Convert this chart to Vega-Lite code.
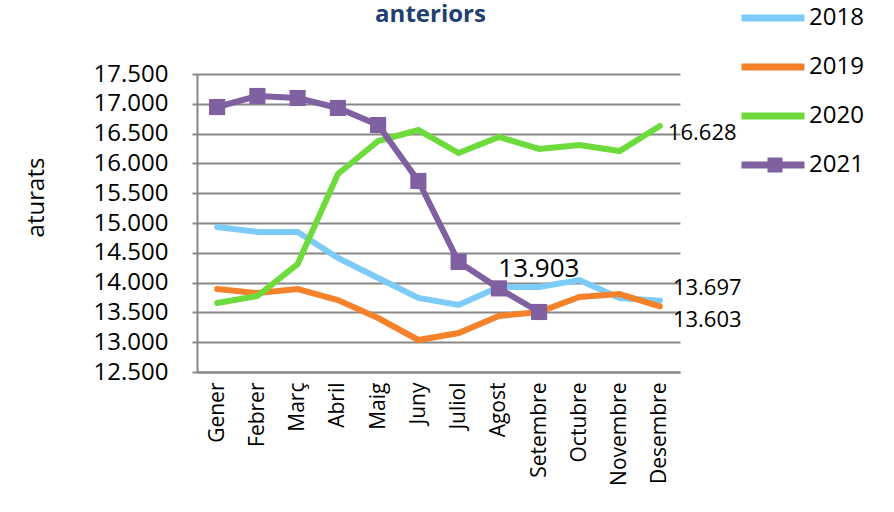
{
  "$schema": "https://vega.github.io/schema/vega-lite/v6.json",
  "autosize": "none",
  "width": 483,
  "height": 298,
  "padding": {"left": 197, "top": 74, "right": 214, "bottom": 140},
  "background": "white",
  "title": {"text": "anteriors", "font": "Open Sans", "fontSize": 24, "fontWeight": "bold", "color": "#1f3f6e", "anchor": "middle", "dx": -8, "dy": 44, "offset": 0},
  "data": {"values": [
    {"mes": "Gener", "any": "2018", "aturats": 14933},
    {"mes": "Febrer", "any": "2018", "aturats": 14849},
    {"mes": "Març", "any": "2018", "aturats": 14849},
    {"mes": "Abril", "any": "2018", "aturats": 14413},
    {"mes": "Maig", "any": "2018", "aturats": 14077},
    {"mes": "Juny", "any": "2018", "aturats": 13742},
    {"mes": "Juliol", "any": "2018", "aturats": 13624},
    {"mes": "Agost", "any": "2018", "aturats": 13926},
    {"mes": "Setembre", "any": "2018", "aturats": 13926},
    {"mes": "Octubre", "any": "2018", "aturats": 14043},
    {"mes": "Novembre", "any": "2018", "aturats": 13742},
    {"mes": "Desembre", "any": "2018", "aturats": 13697},
    {"mes": "Gener", "any": "2019", "aturats": 13892},
    {"mes": "Febrer", "any": "2019", "aturats": 13825},
    {"mes": "Març", "any": "2019", "aturats": 13892},
    {"mes": "Abril", "any": "2019", "aturats": 13708},
    {"mes": "Maig", "any": "2019", "aturats": 13406},
    {"mes": "Juny", "any": "2019", "aturats": 13037},
    {"mes": "Juliol", "any": "2019", "aturats": 13154},
    {"mes": "Agost", "any": "2019", "aturats": 13440},
    {"mes": "Setembre", "any": "2019", "aturats": 13507},
    {"mes": "Octubre", "any": "2019", "aturats": 13758},
    {"mes": "Novembre", "any": "2019", "aturats": 13808},
    {"mes": "Desembre", "any": "2019", "aturats": 13603},
    {"mes": "Gener", "any": "2020", "aturats": 13658},
    {"mes": "Febrer", "any": "2020", "aturats": 13775},
    {"mes": "Març", "any": "2020", "aturats": 14312},
    {"mes": "Abril", "any": "2020", "aturats": 15822},
    {"mes": "Maig", "any": "2020", "aturats": 16376},
    {"mes": "Juny", "any": "2020", "aturats": 16560},
    {"mes": "Juliol", "any": "2020", "aturats": 16174},
    {"mes": "Agost", "any": "2020", "aturats": 16443},
    {"mes": "Setembre", "any": "2020", "aturats": 16242},
    {"mes": "Octubre", "any": "2020", "aturats": 16309},
    {"mes": "Novembre", "any": "2020", "aturats": 16208},
    {"mes": "Desembre", "any": "2020", "aturats": 16628},
    {"mes": "Gener", "any": "2021", "aturats": 16946},
    {"mes": "Febrer", "any": "2021", "aturats": 17131},
    {"mes": "Març", "any": "2021", "aturats": 17097},
    {"mes": "Abril", "any": "2021", "aturats": 16930},
    {"mes": "Maig", "any": "2021", "aturats": 16644},
    {"mes": "Juny", "any": "2021", "aturats": 15705},
    {"mes": "Juliol", "any": "2021", "aturats": 14346},
    {"mes": "Agost", "any": "2021", "aturats": 13903},
    {"mes": "Setembre", "any": "2021", "aturats": 13507}
  ]},
  "encoding": {
    "x": {
      "field": "mes", "type": "ordinal",
      "sort": ["Gener","Febrer","Març","Abril","Maig","Juny","Juliol","Agost","Setembre","Octubre","Novembre","Desembre"],
      "scale": {"type": "point", "padding": 0.5},
      "axis": {"title": null, "labelAngle": -90, "labelAlign": "right", "labelBaseline": "middle", "labelFont": "Open Sans", "labelFontSize": 21, "labelColor": "#000", "labelPadding": 10, "ticks": false, "domainColor": "#888", "domainWidth": 2, "grid": false}
    },
    "y": {
      "field": "aturats", "type": "quantitative",
      "scale": {"domain": [12500, 17500], "nice": false, "zero": false},
      "axis": {"title": "aturats", "titleFont": "Open Sans", "titleFontSize": 24, "titleFontWeight": "normal", "titleColor": "#000", "titleX": -161, "titleY": 123, "titleBaseline": "middle", "titleAlign": "center", "titleAngle": -90,
        "values": [12500,13000,13500,14000,14500,15000,15500,16000,16500,17000,17500],
        "labelExpr": "replace(format(datum.value, ','), ',', '.')",
        "labelFont": "Open Sans", "labelFontSize": 24, "labelColor": "#000", "labelPadding": 24,
        "tickSize": 5, "tickColor": "#888", "tickWidth": 2, "domainColor": "#888", "domainWidth": 2,
        "grid": true, "gridColor": "#888", "gridWidth": 2}
    }
  },
  "layer": [
    {
      "mark": {"type": "line", "strokeWidth": 6, "strokeJoin": "miter", "strokeCap": "round"},
      "encoding": {
        "color": {"field": "any", "type": "nominal",
          "scale": {"domain": ["2018","2019","2020","2021"], "range": ["#7ccbf8","#f5822a","#6edb3c","#7f60a1"]},
          "legend": {"title": null, "orient": "none", "legendX": 541, "legendY": -91, "symbolType": "stroke", "symbolSize": 3969, "symbolStrokeWidth": 7, "labelFont": "Open Sans", "labelFontSize": 24, "labelColor": "#000", "rowPadding": 0, "labelOffset": 1}
        }
      }
    },
    {
      "transform": [{"filter": "datum.any == '2021'"}],
      "mark": {"type": "point", "filled": true, "size": 260, "color": "#7f60a1", "opacity": 1},
      "encoding": {
        "shape": {"field": "any", "type": "nominal",
          "scale": {"domain": ["2021"], "range": ["square"]},
          "legend": {"title": null, "orient": "none", "legendX": 566, "legendY": 79, "symbolSize": 225, "symbolFillColor": "#7f60a1", "symbolStrokeColor": "#7f60a1", "symbolOpacity": 1, "labelExpr": "''", "labelFontSize": 24}
        }
      }
    },
    {
      "transform": [{"filter": "datum.any == '2021' && datum.mes == 'Agost'"}],
      "mark": {"type": "text", "font": "Open Sans", "fontSize": 26, "color": "#000", "dx": 40, "dy": -19},
      "encoding": {"text": {"field": "aturats", "type": "quantitative", "format": ","}}
    },
    {
      "transform": [{"filter": "datum.mes == 'Desembre' && datum.any == '2020'"}],
      "mark": {"type": "text", "font": "Open Sans", "fontSize": 22, "color": "#000", "align": "left", "dx": 8, "dy": 7},
      "encoding": {"text": {"field": "aturats", "type": "quantitative", "format": ","}}
    },
    {
      "transform": [{"filter": "datum.mes == 'Desembre' && datum.any == '2018'"}],
      "mark": {"type": "text", "font": "Open Sans", "fontSize": 22, "color": "#000", "align": "left", "dx": 13, "dy": -13},
      "encoding": {"text": {"field": "aturats", "type": "quantitative", "format": ","}}
    },
    {
      "transform": [{"filter": "datum.mes == 'Desembre' && datum.any == '2019'"}],
      "mark": {"type": "text", "font": "Open Sans", "fontSize": 22, "color": "#000", "align": "left", "dx": 13, "dy": 14},
      "encoding": {"text": {"field": "aturats", "type": "quantitative", "format": ","}}
    }
  ],
  "config": {
    "view": {"stroke": null},
    "locale": {"number": {"decimal": ",", "thousands": ".", "grouping": [3], "currency": ["", "€"]}}
  }
}
